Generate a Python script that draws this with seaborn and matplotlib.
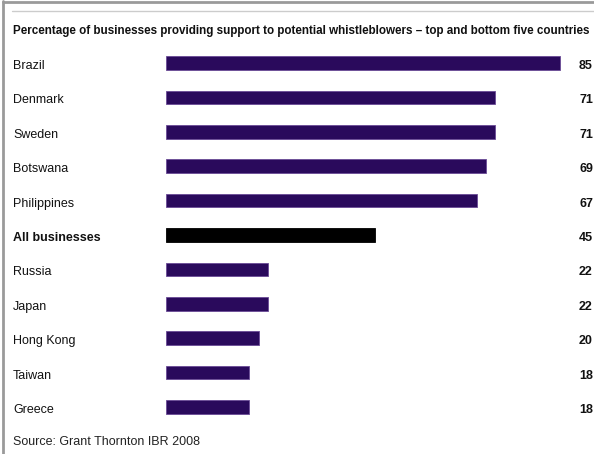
import matplotlib
matplotlib.use("Agg")
import matplotlib.pyplot as plt
import matplotlib.transforms as mtransforms
import seaborn as sns
import pandas as pd

categories = ["Brazil", "Denmark", "Sweden", "Botswana", "Philippines", "All businesses",
              "Russia", "Japan", "Hong Kong", "Taiwan", "Greece"]
values = [85, 71, 71, 69, 67, 45, 22, 22, 20, 18, 18]
highlight = "All businesses"
title = "Percentage of businesses providing support to potential whistleblowers \u2013 top and bottom five countries"
source = "Source: Grant Thornton IBR 2008"

sns.set_theme(style="white")
plt.rcParams['font.family'] = ['Liberation Sans', 'DejaVu Sans']

W, H = 594, 454
fig = plt.figure(figsize=(W / 100, H / 100), dpi=100)
fig.patch.set_facecolor("white")

x0 = 166
ax = fig.add_axes([x0 / W, 0, 1 - x0 / W, 1])
df = pd.DataFrame({"cat": categories, "val": values})
palette = {c: ("#000000" if c == highlight else "#2a0a5c") for c in categories}
sns.barplot(data=df, x="val", y="cat", hue="cat", palette=palette, legend=False,
            width=0.4, ax=ax, orient="h", edgecolor="#6a4a96", linewidth=0.6, saturation=1)
for p, c in zip(ax.patches, categories):
    if c == highlight:
        p.set_edgecolor("#000000")

px_per_unit = 4.635
ax.set_xlim(0, (W - x0) / px_per_unit)
step = (407 - 63) / 10
y_top = -63 / step
y_bot = (H - 63) / step
ax.set_ylim(y_bot, y_top)
ax.axis("off")

trans_lab = mtransforms.blended_transform_factory(fig.transFigure, ax.transData)
off = mtransforms.ScaledTranslation(0, -3 / 100, fig.dpi_scale_trans)
for i, (c, v) in enumerate(zip(categories, values)):
    bold = c == highlight
    fig.text(13 / W, i, c, transform=trans_lab + off, ha="left", va="center",
             fontsize=9, fontweight="bold" if bold else "normal", color="#111111")
    fig.text(579 / W, i, str(v), transform=trans_lab + off, ha="left", va="center",
             fontsize=9, fontweight="bold", color="#111111")

fig.text(13 / W, 1 - 31 / H, title, ha="left", va="center", fontsize=8.35,
         fontweight="bold", color="#111111")
fig.text(13 / W, 1 - 442 / H, source, ha="left", va="center", fontsize=9,
         color="#222222")

fig.add_artist(plt.Line2D([3 / W, 3 / W], [0, 1 - 1 / H], transform=fig.transFigure,
                          color="#9a9a9a", linewidth=2))
fig.add_artist(plt.Line2D([3 / W, 1], [1 - 1.5 / H, 1 - 1.5 / H], transform=fig.transFigure,
                          color="#9a9a9a", linewidth=2))
fig.add_artist(plt.Line2D([12 / W, 1], [1 - 11 / H, 1 - 11 / H], transform=fig.transFigure,
                          color="#cccccc", linewidth=1))

fig.savefig("out.png", dpi=100)
